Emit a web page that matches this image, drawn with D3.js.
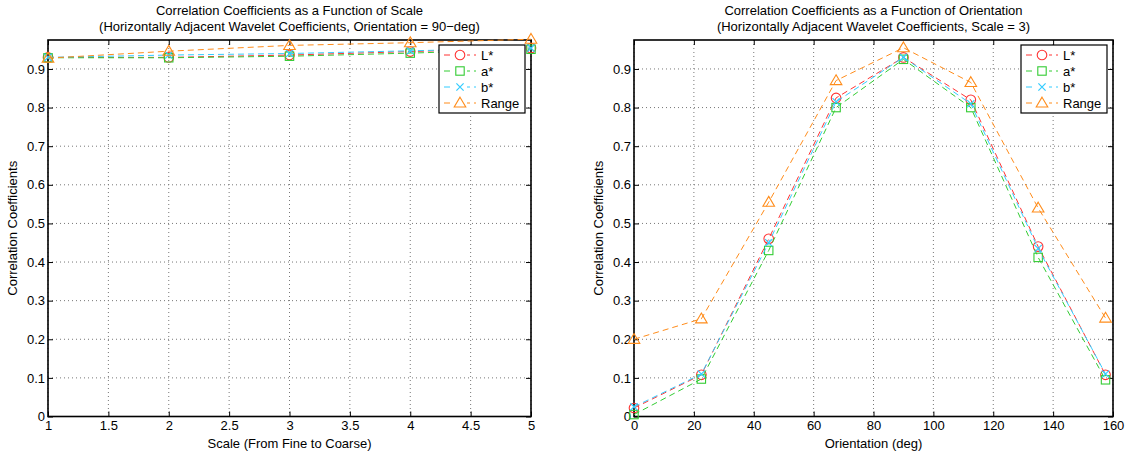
<!DOCTYPE html>
<html>
<head>
<meta charset="utf-8">
<script src="https://cdn.jsdelivr.net/npm/d3@7.9.0/dist/d3.min.js"></script>
<style>
  body { margin: 0; background: #fff; }
  svg text { font-family: "Liberation Sans", Arial, sans-serif; font-size: 13px; fill: #000; }
</style>
</head>
<body>
<svg id="chart" width="1126" height="452"></svg>
<script>
// ---- data ----
const seriesNames = ['L*', 'a*', 'b*', 'Range'];

// left panel: correlation vs scale (orientation = 90 deg)
const scales = [1, 2, 3, 4, 5];
const scaleL = [0.930, 0.930, 0.936, 0.945, 0.954];
const scaleA = [0.929, 0.929, 0.933, 0.941, 0.951];
const scaleB = [0.930, 0.936, 0.940, 0.947, 0.954];
const scaleRange = [0.928, 0.946, 0.961, 0.968, 0.977];

// right panel: correlation vs orientation (scale = 3)
const orientations = [0, 22.5, 45, 67.5, 90, 112.5, 135, 157.5];
const orientL = [0.022, 0.108, 0.460, 0.825, 0.930, 0.820, 0.440, 0.108];
const orientA = [0.005, 0.097, 0.430, 0.800, 0.925, 0.800, 0.412, 0.095];
const orientB = [0.025, 0.110, 0.450, 0.815, 0.930, 0.810, 0.435, 0.110];
const orientRange = [0.200, 0.253, 0.555, 0.870, 0.955, 0.865, 0.540, 0.255];

const scaleTicks = [1, 1.5, 2, 2.5, 3, 3.5, 4, 4.5, 5];
const orientTicks = [0, 20, 40, 60, 80, 100, 120, 140, 160];
const yTicks = [0, 0.1, 0.2, 0.3, 0.4, 0.5, 0.6, 0.7, 0.8, 0.9];

const colors = ['#ff3333', '#33cc33', '#33ccff', '#ff8c1a'];
const markers = ['circle', 'square', 'x', 'triangle'];

const svg = d3.select('#chart');

// draw a marker symbol centered at (x, y)
function drawMarker(g, type, x, y, color) {
  if (type === 'circle') {
    g.append('circle').attr('cx', x).attr('cy', y).attr('r', 4.8)
      .attr('fill', 'none').attr('stroke', color).attr('stroke-width', 1.1);
  } else if (type === 'square') {
    g.append('rect').attr('x', x - 4.2).attr('y', y - 4.2).attr('width', 8.4).attr('height', 8.4)
      .attr('fill', 'none').attr('stroke', color).attr('stroke-width', 1.1);
  } else if (type === 'x') {
    const s = 3.6;
    g.append('path').attr('d', `M${x - s},${y - s}L${x + s},${y + s}M${x - s},${y + s}L${x + s},${y - s}`)
      .attr('stroke', color).attr('stroke-width', 1.2);
  } else {
    const s = 5.8;
    g.append('path').attr('d', `M${x},${y - s}L${x + s},${y + s * 0.7}L${x - s},${y + s * 0.7}Z`)
      .attr('fill', 'none').attr('stroke', color).attr('stroke-width', 1.1);
  }
}

function drawPanel(cfg) {
  const { left, right, top, bottom } = cfg;
  const x = d3.scaleLinear().domain(cfg.xDomain).range([left, right]);
  const y = d3.scaleLinear().domain([0, 0.975]).range([bottom, top]);
  const g = svg.append('g');

  // dotted grid
  const grid = g.append('g').attr('stroke', '#777').attr('stroke-width', 1).attr('stroke-dasharray', '1,3');
  cfg.xTicks.forEach(t => {
    grid.append('line').attr('x1', x(t)).attr('x2', x(t)).attr('y1', top).attr('y2', bottom);
  });
  yTicks.forEach(t => {
    grid.append('line').attr('x1', left).attr('x2', right).attr('y1', y(t)).attr('y2', y(t));
  });

  // axes with inward ticks on all sides
  const tl = 5;
  g.append('g').attr('transform', `translate(0,${bottom})`)
    .call(d3.axisBottom(x).tickValues(cfg.xTicks).tickSize(-tl).tickPadding(4).tickFormat(d3.format('')))
    .call(a => a.select('.domain').remove());
  g.append('g').attr('transform', `translate(0,${top})`)
    .call(d3.axisTop(x).tickValues(cfg.xTicks).tickSize(-tl).tickFormat(''))
    .call(a => a.select('.domain').remove());
  g.append('g').attr('transform', `translate(${left},0)`)
    .call(d3.axisLeft(y).tickValues(yTicks).tickSize(-tl).tickPadding(3).tickFormat(d3.format('')))
    .call(a => a.select('.domain').remove());
  g.append('g').attr('transform', `translate(${right},0)`)
    .call(d3.axisRight(y).tickValues(yTicks).tickSize(-tl).tickFormat(''))
    .call(a => a.select('.domain').remove());
  g.selectAll('.tick line').attr('stroke', '#000');
  g.selectAll('.tick text').style('font-size', '13px').style('font-family', '"Liberation Sans", Arial, sans-serif');

  g.append('rect').attr('x', left).attr('y', top).attr('width', right - left).attr('height', bottom - top)
    .attr('fill', 'none').attr('stroke', '#000').attr('stroke-width', 1.6);

  // series
  const line = d3.line().x(d => x(d[0])).y(d => y(d[1]));
  cfg.series.forEach((vals, i) => {
    const pts = cfg.xs.map((xv, j) => [xv, vals[j]]);
    g.append('path').datum(pts).attr('d', line)
      .attr('fill', 'none').attr('stroke', colors[i]).attr('stroke-width', 1)
      .attr('stroke-dasharray', '6,4');
    const mg = g.append('g');
    pts.forEach(p => drawMarker(mg, markers[i], x(p[0]), y(p[1]), colors[i]));
  });

  // titles and labels
  const cx = (left + right) / 2;
  g.append('text').attr('x', cx).attr('y', 15).attr('text-anchor', 'middle').text(cfg.title1);
  g.append('text').attr('x', cx).attr('y', 31).attr('text-anchor', 'middle').text(cfg.title2);
  g.append('text').attr('x', cx).attr('y', 448).attr('text-anchor', 'middle').text(cfg.xLabel);
  g.append('text').attr('transform', `translate(${left - 31},${(top + bottom) / 2}) rotate(-90)`)
    .attr('text-anchor', 'middle').text('Correlation Coefficients');

  // legend
  const lw = 86, lh = 68;
  const lx = right - 6 - lw, ly = top + 5;
  const lg = g.append('g');
  lg.append('rect').attr('x', lx).attr('y', ly).attr('width', lw).attr('height', lh)
    .attr('fill', '#fff').attr('stroke', '#000').attr('stroke-width', 1.2);
  seriesNames.forEach((name, i) => {
    const ry = ly + 10 + i * 16;
    lg.append('line').attr('x1', lx + 5).attr('x2', lx + 37).attr('y1', ry).attr('y2', ry)
      .attr('stroke', colors[i]).attr('stroke-width', 1).attr('stroke-dasharray', '6,4');
    lg.append('rect').attr('x', lx + 14).attr('y', ry - 6).attr('width', 14).attr('height', 12).attr('fill', '#fff');
    drawMarker(lg, markers[i], lx + 21, ry, colors[i]);
    lg.append('text').attr('x', lx + 42).attr('y', ry + 5).text(name);
  });
}

drawPanel({
  left: 48, right: 531, top: 40, bottom: 416.5,
  xDomain: [1, 5], xTicks: scaleTicks, xs: scales,
  series: [scaleL, scaleA, scaleB, scaleRange],
  title1: 'Correlation Coefficients as a Function of Scale',
  title2: '(Horizontally Adjacent Wavelet Coefficients, Orientation = 90\u2212deg)',
  xLabel: 'Scale (From Fine to Coarse)'
});

drawPanel({
  left: 634, right: 1113, top: 40, bottom: 416.5,
  xDomain: [0, 160], xTicks: orientTicks, xs: orientations,
  series: [orientL, orientA, orientB, orientRange],
  title1: 'Correlation Coefficients as a Function of Orientation',
  title2: '(Horizontally Adjacent Wavelet Coefficients, Scale = 3)',
  xLabel: 'Orientation (deg)'
});
</script>
</body>
</html>
